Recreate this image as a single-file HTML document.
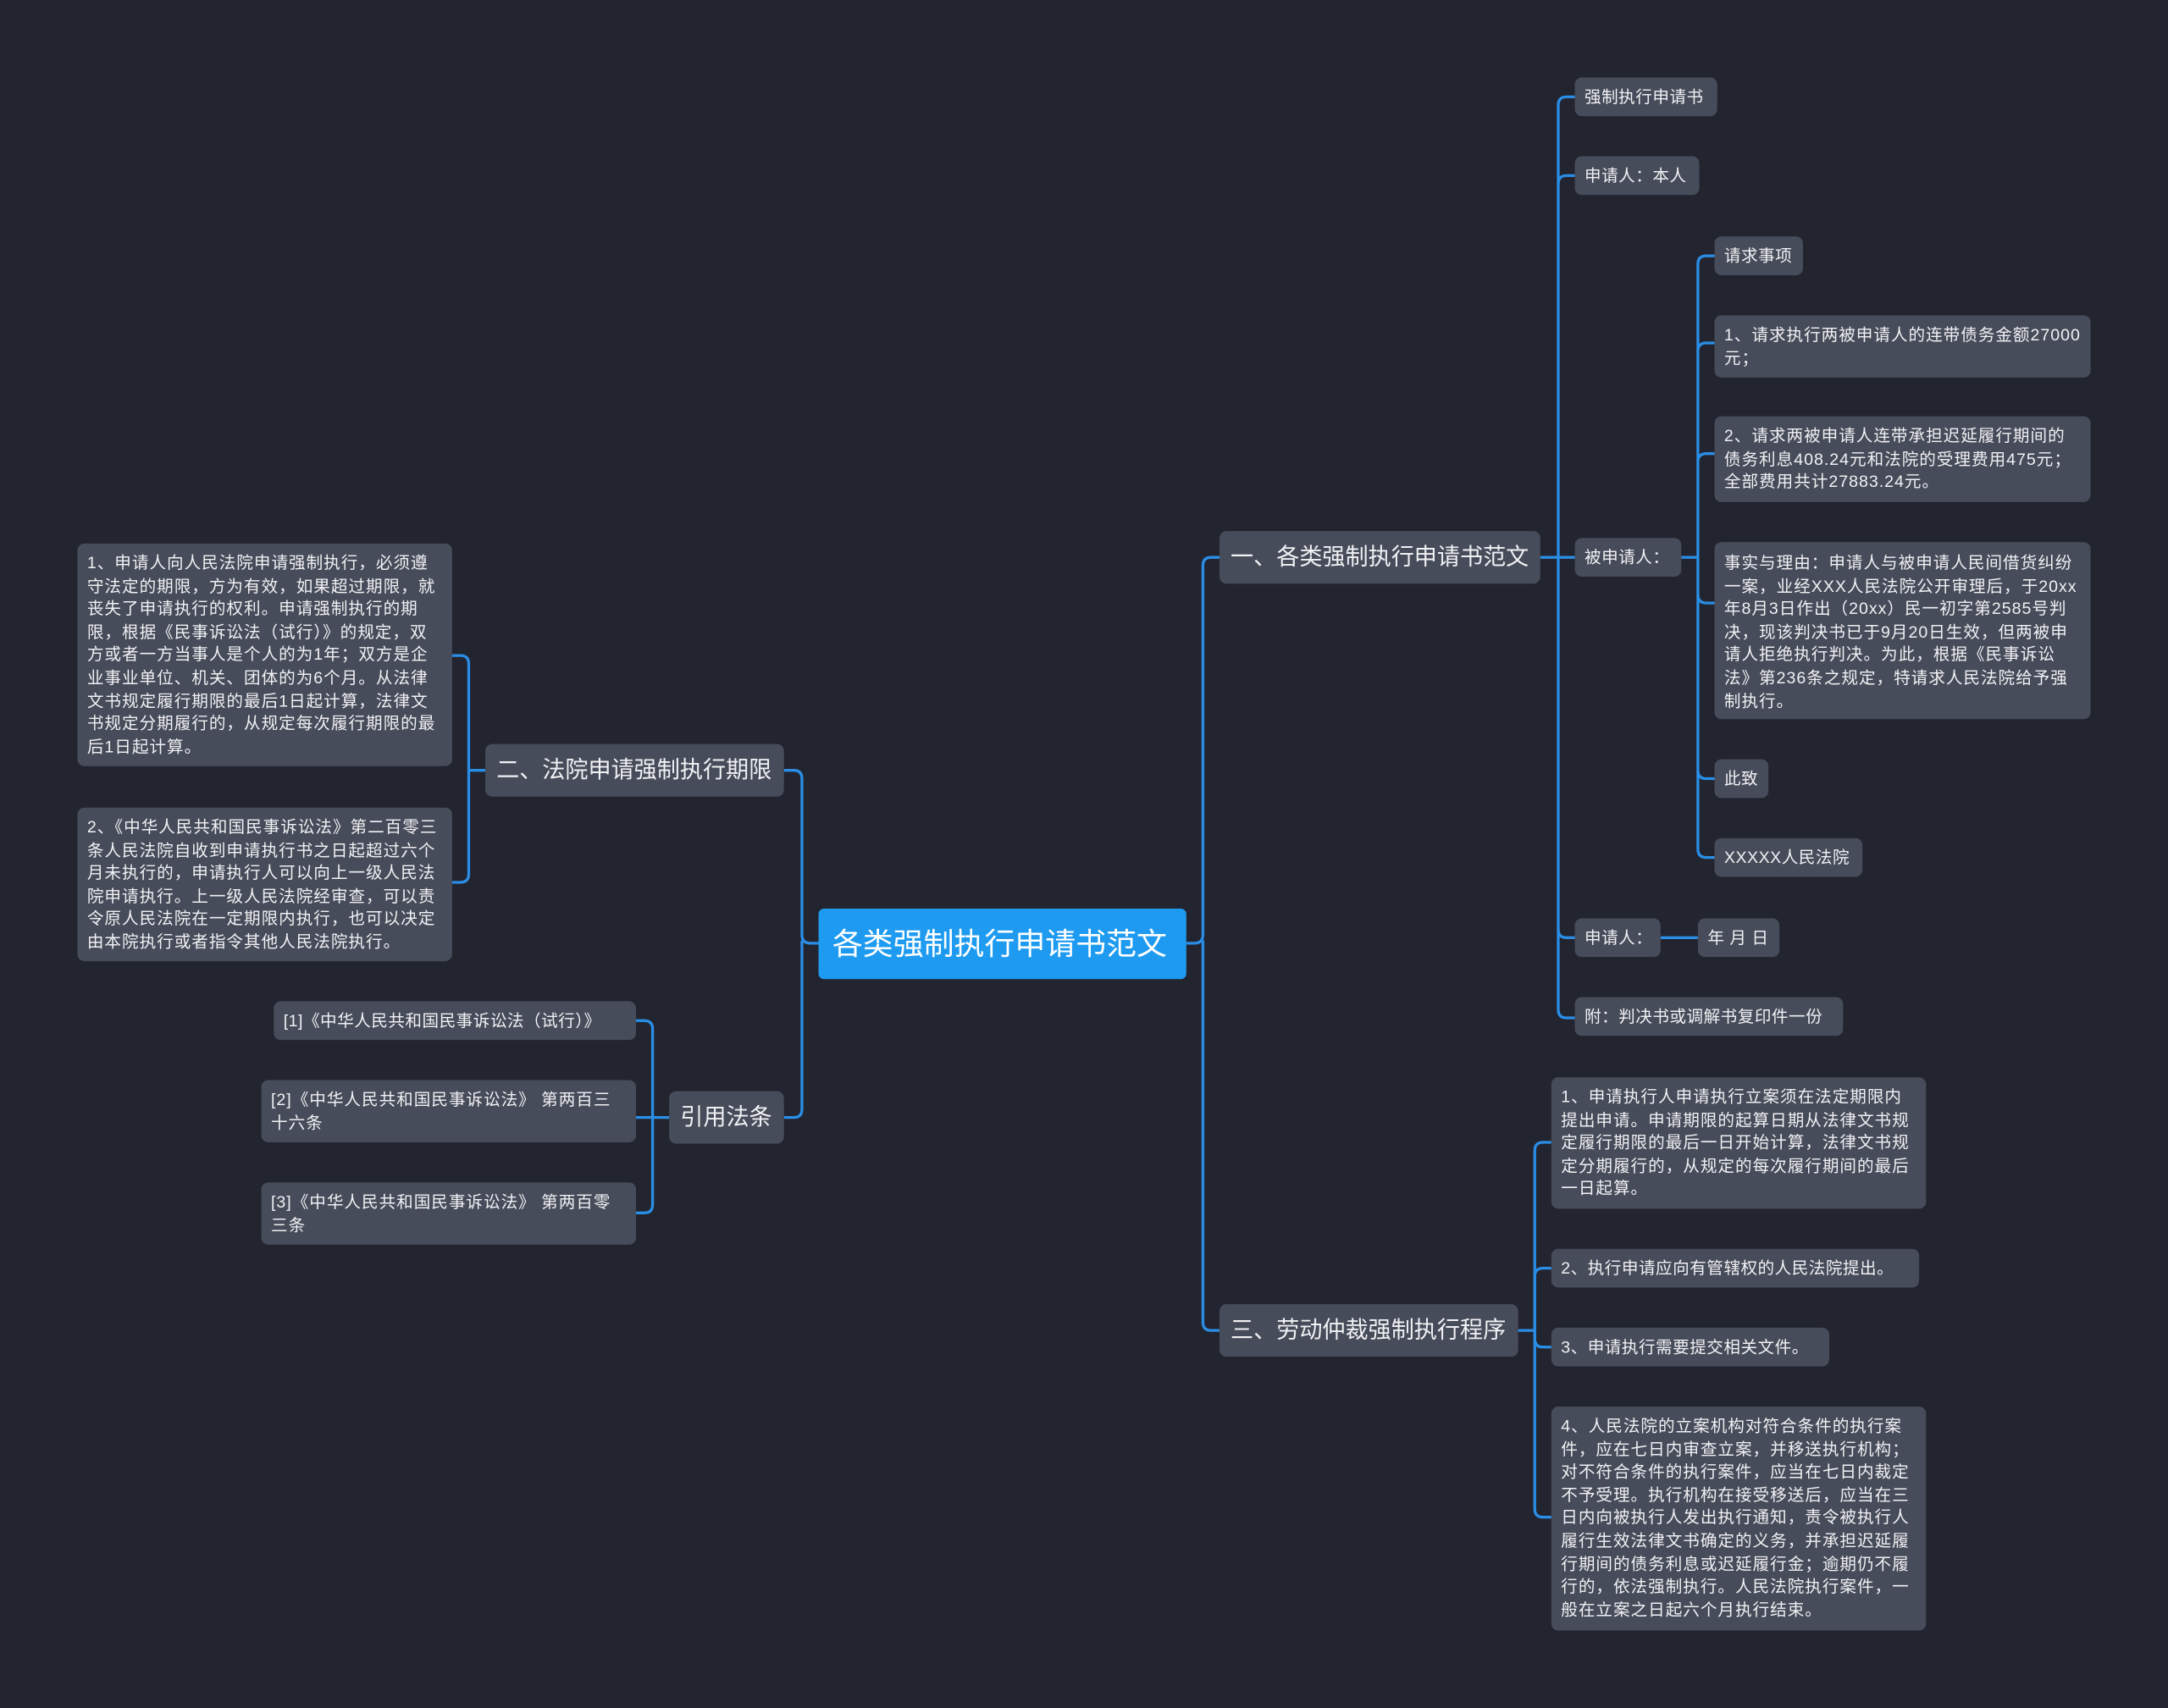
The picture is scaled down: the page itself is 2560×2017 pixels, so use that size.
<!DOCTYPE html>
<html><head><meta charset="utf-8"><style>
html,body{margin:0;padding:0;background:#22252f;}
#w{width:2560px;height:2017px;overflow:hidden;position:relative;background:#22252f;}
#c{position:absolute;left:0;top:0;width:1568px;height:1235px;transform:scale(1.63265,1.6332);transform-origin:0 0;}
.n{position:absolute;box-sizing:border-box;background:#474c5a;color:#f0f1f4;border-radius:5px;font-family:"Liberation Sans","Noto Sans CJK SC",sans-serif;font-size:12px;line-height:16.6px;padding:6px 7px;white-space:nowrap;letter-spacing:0.3px;}
.t{white-space:normal;word-break:break-all;letter-spacing:0.6px;}
.m{font-size:16.6px;line-height:22px;padding:8px 8px;letter-spacing:0;}
.r{background:#1e9bf0;color:#fff;font-size:22px;line-height:27px;padding:12px 10px;border-radius:4px;letter-spacing:0;}
svg{position:absolute;left:0;top:0;}
</style></head><body><div id="w"><div id="c">
<svg width="1568" height="1235" fill="none" stroke="#2a8ee6" stroke-width="2">
<path d="M858 682 H864 Q870 682 870 676 V409 Q870 403 876 403 H882"/>
<path d="M870 680 V956 Q870 962 876 962 H882"/>
<path d="M592 682 H586 Q580 682 580 676 V563 Q580 557 574 557 H567"/>
<path d="M580 680 V802 Q580 808 574 808 H567"/>
<path d="M1114 403 H1127"/>
<path d="M1127 403 V76 Q1127 70 1133 70 H1139"/>
<path d="M1127 133 Q1127 127 1133 127 H1139"/>
<path d="M1127 403 H1139"/>
<path d="M1127 403 V672 Q1127 678 1133 678 H1139"/>
<path d="M1127 672 V730 Q1127 736 1133 736 H1139"/>
<path d="M1216 403 H1228"/>
<path d="M1228 403 V191 Q1228 185 1234 185 H1240"/>
<path d="M1228 254 Q1228 248 1234 248 H1240"/>
<path d="M1228 334 Q1228 328 1234 328 H1240"/>
<path d="M1228 403 V614 Q1228 620 1234 620 H1240"/>
<path d="M1228 430 Q1228 436 1234 436 H1240"/>
<path d="M1228 557 Q1228 563 1234 563 H1240"/>
<path d="M1201 678 H1228"/>
<path d="M351 557 H339"/>
<path d="M339 557 V480 Q339 474 333 474 H327"/>
<path d="M339 557 V632 Q339 638 333 638 H327"/>
<path d="M484 808 H472"/>
<path d="M472 808 V744 Q472 738 466 738 H460"/>
<path d="M472 808 H460"/>
<path d="M472 808 V871 Q472 877 466 877 H460"/>
<path d="M1098 962 H1110"/>
<path d="M1110 962 V832 Q1110 826 1116 826 H1122"/>
<path d="M1110 962 V923 Q1110 917 1116 917 H1122"/>
<path d="M1110 962 V968 Q1110 974 1116 974 H1122"/>
<path d="M1110 962 V1091 Q1110 1097 1116 1097 H1122"/>
</svg>

<div class="n r" style="left:592px;top:657px;width:266px;height:51px;">各类强制执行申请书范文</div>
<div class="n m" style="left:882px;top:384px;width:232px;height:38px;">一、各类强制执行申请书范文</div>
<div class="n m" style="left:351px;top:538px;width:216px;height:38px;">二、法院申请强制执行期限</div>
<div class="n m" style="left:882px;top:943px;width:216px;height:38px;">三、劳动仲裁强制执行程序</div>
<div class="n m" style="left:484px;top:789px;width:83px;height:38px;">引用法条</div>

<div class="n" style="left:1139px;top:56px;width:103px;height:28px;">强制执行申请书</div>
<div class="n" style="left:1139px;top:113px;width:90px;height:28px;">申请人：本人</div>
<div class="n" style="left:1139px;top:389px;width:77px;height:28px;">被申请人：</div>
<div class="n" style="left:1240px;top:171px;width:64px;height:28px;">请求事项</div>
<div class="n t" style="left:1240px;top:228px;width:272px;height:45px;">1、请求执行两被申请人的连带债务金额27000元；</div>
<div class="n t" style="left:1240px;top:301px;width:272px;height:62px;">2、请求两被申请人连带承担迟延履行期间的债务利息408.24元和法院的受理费用475元；全部费用共计27883.24元。</div>
<div class="n t" style="left:1240px;top:392px;width:272px;height:128px;padding-top:7px;">事实与理由：申请人与被申请人民间借货纠纷一案，业经XXX人民法院公开审理后，于20xx年8月3日作出（20xx）民一初字第2585号判决，现该判决书已于9月20日生效，但两被申请人拒绝执行判决。为此，根据《民事诉讼法》第236条之规定，特请求人民法院给予强制执行。</div>
<div class="n" style="left:1240px;top:549px;width:39px;height:28px;">此致</div>
<div class="n" style="left:1240px;top:606px;width:107px;height:28px;">XXXXX人民法院</div>
<div class="n" style="left:1139px;top:664px;width:62px;height:28px;">申请人：</div>
<div class="n" style="left:1228px;top:664px;width:59px;height:28px;">年 月 日</div>
<div class="n" style="left:1139px;top:721px;width:194px;height:28px;">附：判决书或调解书复印件一份</div>

<div class="n t" style="left:56px;top:393px;width:271px;height:161px;">1、申请人向人民法院申请强制执行，必须遵守法定的期限，方为有效，如果超过期限，就丧失了申请执行的权利。申请强制执行的期限，根据《民事诉讼法（试行）》的规定，双方或者一方当事人是个人的为1年；双方是企业事业单位、机关、团体的为6个月。从法律文书规定履行期限的最后1日起计算，法律文书规定分期履行的，从规定每次履行期限的最后1日起计算。</div>
<div class="n t" style="left:56px;top:584px;width:271px;height:111px;">2、《中华人民共和国民事诉讼法》第二百零三条人民法院自收到申请执行书之日起超过六个月未执行的，申请执行人可以向上一级人民法院申请执行。上一级人民法院经审查，可以责令原人民法院在一定期限内执行，也可以决定由本院执行或者指令其他人民法院执行。</div>
<div class="n" style="left:198px;top:724px;width:262px;height:28px;">[1]《中华人民共和国民事诉讼法（试行）》</div>
<div class="n t" style="left:189px;top:781px;width:271px;height:45px;">[2]《中华人民共和国民事诉讼法》 第两百三十六条</div>
<div class="n t" style="left:189px;top:855px;width:271px;height:45px;">[3]《中华人民共和国民事诉讼法》 第两百零三条</div>

<div class="n t" style="left:1122px;top:779px;width:271px;height:95px;">1、申请执行人申请执行立案须在法定期限内提出申请。申请期限的起算日期从法律文书规定履行期限的最后一日开始计算，法律文书规定分期履行的，从规定的每次履行期间的最后一日起算。</div>
<div class="n" style="left:1122px;top:903px;width:266px;height:28px;">2、执行申请应向有管辖权的人民法院提出。</div>
<div class="n" style="left:1122px;top:960px;width:201px;height:28px;">3、申请执行需要提交相关文件。</div>
<div class="n t" style="left:1122px;top:1017px;width:271px;height:162px;">4、人民法院的立案机构对符合条件的执行案件，应在七日内审查立案，并移送执行机构；对不符合条件的执行案件，应当在七日内裁定不予受理。执行机构在接受移送后，应当在三日内向被执行人发出执行通知，责令被执行人履行生效法律文书确定的义务，并承担迟延履行期间的债务利息或迟延履行金；逾期仍不履行的，依法强制执行。人民法院执行案件，一般在立案之日起六个月执行结束。</div>
</div></div></body></html>
